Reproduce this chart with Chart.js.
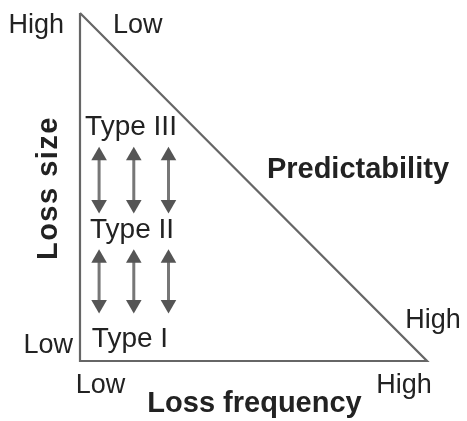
<!DOCTYPE html>
<html>
<head>
<meta charset="utf-8">
<script src="https://cdn.jsdelivr.net/npm/chart.js@4/dist/chart.umd.min.js"></script>
<style>
  html, body { margin: 0; padding: 0; background: #fff; }
  #wrap { width: 467px; height: 421px; }
</style>
</head>
<body>
<div id="wrap"><canvas id="riskChart" width="467" height="421"></canvas></div>
<script>
// ── Data ───────────────────────────────────────────────────────────────
var levels = ["Low", "High"];
var typeLabels = ["Type I", "Type II", "Type III"];
var typeX = [14.4, 15.0, 14.7];
var typeY = [4.0, 35.3, 64.9];
// triangle corners (frequency, size) on a 0..100 scale
var cornerX = [0, 0, 100, 0];
var cornerY = [100, 0, 0, 100];
// double arrows between the types
var arrowX = [5.5, 15.5, 25.5];
var upperArrow = [45.0, 59.0];
var lowerArrow = [16.2, 29.5];

var FONT = "'Liberation Sans', Arial, sans-serif";
var INK = "#222";

// ── Datasets ───────────────────────────────────────────────────────────
var datasets = [{
    data: cornerX.map(function (x, i) { return { x: x, y: cornerY[i] }; }),
    showLine: true,
    borderColor: "#666",
    borderWidth: 2.2,
    pointRadius: 0,
    clip: false
}];

[upperArrow, lowerArrow].forEach(function (pair) {
    arrowX.forEach(function (x) {
        datasets.push({
            data: [{ x: x, y: pair[0] }, { x: x, y: pair[1] }],
            showLine: true,
            borderColor: "#777",
            borderWidth: 3,
            pointStyle: "triangle",
            pointRadius: 9,
            pointRotation: [180, 0],
            pointBackgroundColor: "#555",
            pointBorderWidth: 0,
            clip: false
        });
    });
});

// ── Text plugin ────────────────────────────────────────────────────────
var textPlugin = {
    id: "textNotes",
    afterDraw: function (chart) {
        var ctx = chart.ctx;
        var xs = chart.scales.x;
        var ys = chart.scales.y;
        function put(txt, x, y, align, font, rot, spacing) {
            ctx.save();
            ctx.fillStyle = INK;
            ctx.font = font + " " + FONT;
            ctx.textAlign = align;
            ctx.textBaseline = "alphabetic";
            if (spacing) { ctx.letterSpacing = spacing; }
            ctx.translate(xs.getPixelForValue(x), ys.getPixelForValue(y));
            if (rot) { ctx.rotate(rot); }
            ctx.fillText(txt, 0, 0);
            ctx.restore();
        }
        typeLabels.forEach(function (t, i) {
            put(t, typeX[i], typeY[i], "center", "28px");
        });
        // axis ends
        put(levels[1], -4.6, 94.3, "right", "27px");
        put(levels[0], 9.5, 94.3, "left", "27px");
        put(levels[0], -2.0, 2.3, "right", "27px");
        put(levels[0], -1.2, -9.2, "left", "27px");
        put(levels[1], 101.4, -9.2, "right", "27px");
        put(levels[1], 93.7, 9.5, "left", "27px");
        // titles
        put("Loss frequency", 50.3, -14.7, "center", "bold 29px");
        put("Loss size", -6.6, 49.7, "center", "bold 29px", -Math.PI / 2, "1.5px");
        put("Predictability", 80.1, 52.6, "center", "bold 29px");
    }
};

new Chart(document.getElementById("riskChart"), {
    type: "scatter",
    data: { datasets: datasets },
    options: {
        responsive: false,
        animation: false,
        layout: { padding: { left: 80, right: 40, top: 13, bottom: 60 } },
        plugins: { legend: { display: false }, tooltip: { enabled: false } },
        scales: {
            x: { type: "linear", min: 0, max: 100, display: false },
            y: { type: "linear", min: 0, max: 100, display: false }
        }
    },
    plugins: [textPlugin]
});
</script>
</body>
</html>
